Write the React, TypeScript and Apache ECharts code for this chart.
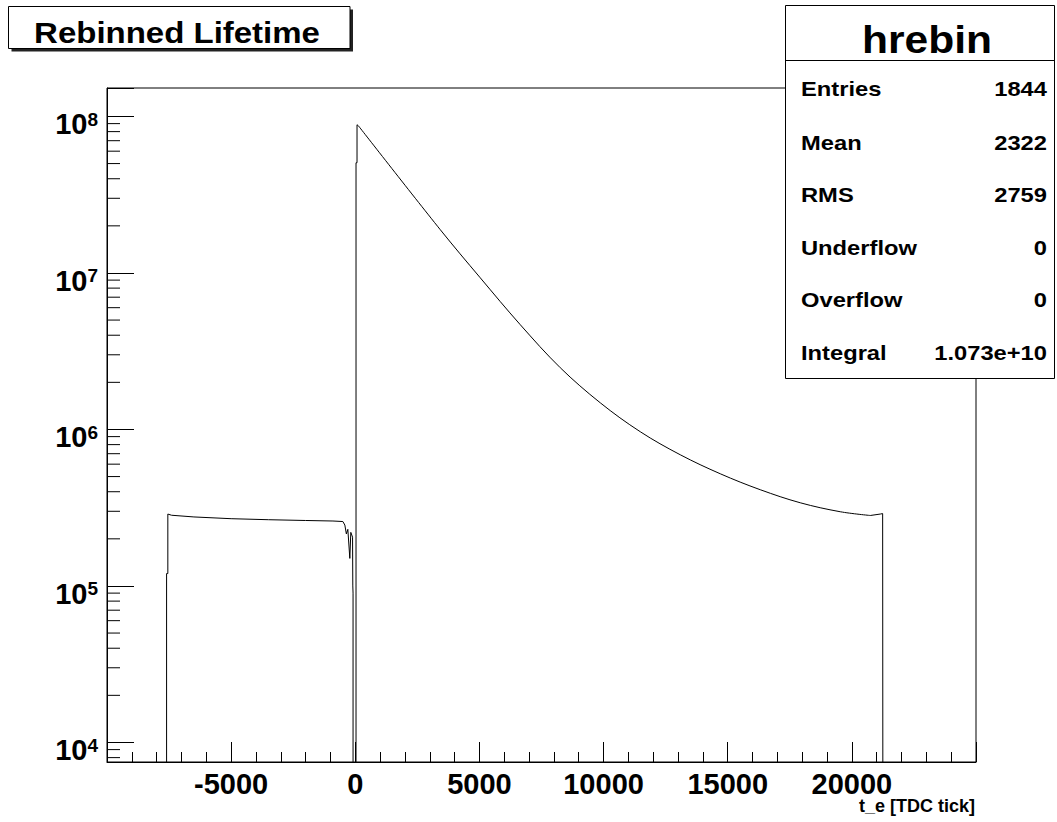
import React, { useEffect, useRef } from 'react';
import * as echarts from 'echarts';

// ---- data ----
// time [TDC tick] and counts per bin, left block (before t = 0)
const preT = [-7600, -7600, -7550, -7550, -7400, -6500, -5000, -3500, -2000, -900, -500, -420, -360, -300, -220, -180, -110, -100, -90, -90];
const preN = [1, 1.2e5, 1.2e5, 2.88e5, 2.83e5, 2.76e5, 2.69e5, 2.65e5, 2.62e5, 2.6e5, 2.58e5, 2.45e5, 2.15e5, 2.3e5, 1.5e5, 2.2e5, 2.05e5, 1.0e5, 9e4, 1];
// rising edge at t = 0
const riseT = [30, 30, 70, 70, 130];
const riseN = [1, 5.06e7, 5.06e7, 8.85e7, 8.7e7];
// decay part (smooth)
const decT = [130, 3423, 5034, 6645, 8256, 9867, 11478, 13089, 14700, 16311, 17922, 19533, 20742];
const decN = [8.7e7, 1.89e7, 9.31e6, 4.67e6, 2.48e6, 1.48e6, 9.67e5, 6.89e5, 5.21e5, 4.12e5, 3.4e5, 2.98e5, 2.82e5];
// right end
const endT = [20742, 21145, 21240, 21266, 21266];
const endN = [2.82e5, 2.88e5, 2.9e5, 2.9e5, 1];

const xMin = -10000;
const xMax = 25000;
const xStep = 5000;
const yMin = 7500;
const yMax = 1.52e8;

const titleText = 'Rebinned Lifetime';
const statsTitle = 'hrebin';
const statsLabels = ['Entries', 'Mean', 'RMS', 'Underflow', 'Overflow', 'Integral'];
const statsValues = ['1844', '2322', '2759', '0', '0', '1.073e+10'];
const xAxisTitle = 't_e [TDC tick]';

const FONT = '"Liberation Sans", Arial, Helvetica, sans-serif';

const pairs = (t: number[], n: number[]) => t.map((v, i) => [v, n[i]]);

export default function App() {
  const ref = useRef<HTMLDivElement>(null);

  useEffect(() => {
    document.body.style.margin = '0';
    if (!ref.current) return;
    const chart = echarts.init(ref.current, null, { renderer: 'svg' });

    const yMinorTicks: number[] = [];
    for (let e = 3; e <= 8; e++) {
      for (let k = 2; k <= 9; k++) {
        const v = k * Math.pow(10, e);
        if (v >= yMin && v <= yMax) yMinorTicks.push(v);
      }
    }

    const statsLeft = 785;
    const statsRight = 1054;
    const statsTop = 5;
    const statsBottom = 378;
    const rowY = [89.4, 143.4, 195, 247.7, 300.4, 353.1];

    const graphics: any[] = [
      { type: 'rect', shape: { x: 11.5, y: 9.5, width: 341.5, height: 42 }, style: { fill: '#222' }, z: 100 },
      { type: 'rect', shape: { x: 8.5, y: 6.5, width: 341.5, height: 42 }, style: { fill: '#fff', stroke: '#000', lineWidth: 1 }, z: 101 },
      {
        type: 'text', x: 177, y: 33, scaleX: 1.1, z: 102,
        style: { text: titleText, font: `bold 30px ${FONT}`, fill: '#000', align: 'center', verticalAlign: 'middle' },
      },
      {
        type: 'rect', shape: { x: statsLeft + 0.5, y: statsTop + 0.5, width: statsRight - statsLeft, height: statsBottom - statsTop },
        style: { fill: '#fff', stroke: '#000', lineWidth: 1 }, z: 100,
      },
      { type: 'line', shape: { x1: statsLeft, y1: 60.5, x2: statsRight + 1, y2: 60.5 }, style: { stroke: '#000', lineWidth: 1 }, z: 101 },
      {
        type: 'text', x: 927, y: 40, scaleX: 1.12, z: 102,
        style: { text: statsTitle, font: `bold 38px ${FONT}`, fill: '#000', align: 'center', verticalAlign: 'middle' },
      },
      {
        type: 'text', x: 975, y: 806, z: 102,
        style: { text: xAxisTitle, font: `bold 18px ${FONT}`, fill: '#000', align: 'right', verticalAlign: 'middle' },
      },
    ];
    statsLabels.forEach((lab, i) => {
      graphics.push({
        type: 'text', x: 801, y: rowY[i], scaleX: 1.13, z: 102,
        style: { text: lab, font: `bold 21px ${FONT}`, fill: '#000', align: 'left', verticalAlign: 'middle' },
      });
      graphics.push({
        type: 'text', x: 1047, y: rowY[i], scaleX: 1.13, z: 102,
        style: { text: statsValues[i], font: `bold 21px ${FONT}`, fill: '#000', align: 'right', verticalAlign: 'middle' },
      });
    });

    const lineStyle = { color: '#000', width: 1 };
    const lineCommon = { type: 'line', showSymbol: false, symbol: 'none', clip: true, lineStyle, z: 5, silent: true };

    chart.setOption({
      animation: false,
      backgroundColor: '#fff',
      grid: {
        left: 107, right: 81, top: 88, bottom: 60,
        show: true, borderColor: '#000', borderWidth: 1, backgroundColor: 'transparent',
      },
      xAxis: {
        type: 'value', min: xMin, max: xMax, interval: xStep,
        axisLine: { show: true, onZero: false, lineStyle: { color: '#000', width: 1 } },
        axisTick: { show: true, inside: true, length: 20, lineStyle: { color: '#000', width: 1 } },
        minorTick: { show: true, splitNumber: 5, length: 10, lineStyle: { color: '#000', width: 1 } },
        splitLine: { show: false },
        axisLabel: {
          show: true, showMinLabel: false, showMaxLabel: false, margin: 7,
          color: '#000', fontFamily: FONT, fontWeight: 'bold', fontSize: 29,
          formatter: (v: number) => (v === xMin || v === xMax ? '' : String(v)),
        },
      },
      yAxis: {
        type: 'log', logBase: 10, min: yMin, max: yMax,
        axisLine: { show: true, onZero: false, lineStyle: { color: '#000', width: 1 } },
        axisTick: { show: true, inside: true, length: 27, lineStyle: { color: '#000', width: 1 } },
        splitLine: { show: false },
        axisLabel: {
          show: true, margin: 9, padding: [16, 0, 0, 0],
          formatter: (v: number) => {
            const e = Math.log10(v);
            const r = Math.round(e);
            if (Math.abs(e - r) > 1e-6) return '';
            return `{b|10}{s|${r}}`;
          },
          rich: {
            b: { fontSize: 29, fontWeight: 'bold', fontFamily: FONT, color: '#000', lineHeight: 29 },
            s: { fontSize: 19, fontWeight: 'bold', fontFamily: FONT, color: '#000', lineHeight: 7, verticalAlign: 'top' },
          },
        },
      },
      graphic: graphics,
      series: [
        { ...lineCommon, data: pairs(preT, preN) },
        { ...lineCommon, data: pairs(riseT, riseN) },
        { ...lineCommon, data: pairs(decT, decN), smooth: 0.35 },
        { ...lineCommon, data: pairs(endT, endN) },
        {
          type: 'custom',
          coordinateSystem: 'cartesian2d',
          data: yMinorTicks.map((v) => [xMin, v]),
          clip: true,
          silent: true,
          renderItem: (params: any, api: any) => {
            const p = api.coord([api.value(0), api.value(1)]);
            return {
              type: 'line',
              shape: { x1: p[0], y1: p[1], x2: p[0] + 13, y2: p[1] },
              style: { stroke: '#000', lineWidth: 1 },
            };
          },
          z: 4,
        },
      ],
    });

    return () => {
      chart.dispose();
    };
  }, []);

  return <div ref={ref} style={{ width: 1057, height: 822 }} />;
}
